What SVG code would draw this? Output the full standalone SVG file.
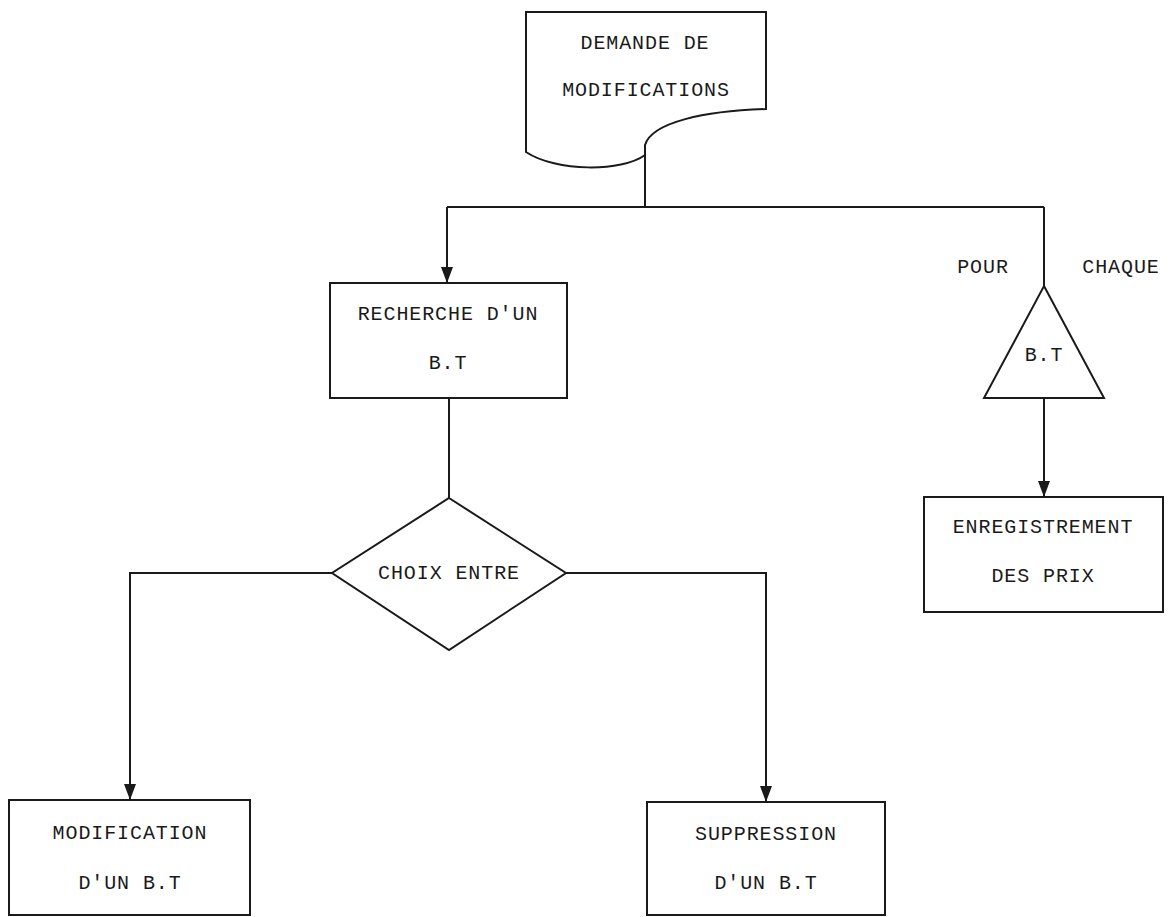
<svg xmlns="http://www.w3.org/2000/svg" width="1171" height="917" viewBox="0 0 1171 917">
<style>
.shape{fill:none;stroke:#1a1a1a;stroke-width:2}
.conn{fill:none;stroke:#1a1a1a;stroke-width:2}
text{font-family:"Liberation Mono","DejaVu Sans Mono",monospace;font-size:20px;fill:#1a1a1a;text-anchor:middle;dominant-baseline:central;letter-spacing:0.9px}
</style>
<defs>
<marker id="arr" viewBox="0 0 16 12" refX="16" refY="6" markerWidth="16" markerHeight="12" markerUnits="userSpaceOnUse" orient="auto">
<path d="M0,0 L16,6 L0,12 Z" fill="#1a1a1a"/>
</marker>
</defs>
<rect x="0" y="0" width="1171" height="917" fill="#ffffff"/>
<g id="connectors">
<line class="conn" x1="645" y1="155" x2="645" y2="207"/>
<line class="conn" x1="447" y1="207" x2="1044" y2="207"/>
<line class="conn" x1="447" y1="207" x2="447" y2="283" marker-end="url(#arr)"/>
<line class="conn" x1="1044" y1="207" x2="1044" y2="286"/>
<line class="conn" x1="1044" y1="398" x2="1044" y2="497" marker-end="url(#arr)"/>
<line class="conn" x1="449" y1="398" x2="449" y2="498"/>
<polyline class="conn" points="332,573 130,573 130,800" marker-end="url(#arr)"/>
<polyline class="conn" points="566,573 766,573 766,802" marker-end="url(#arr)"/>
</g>
<g id="demande">
<path class="shape" d="M526,12 H766 V109 C705,111 652,122 645,145 V155 C622,172 556,172 526,152 Z"/>
<text x="645" y="43">DEMANDE DE</text>
<text x="646" y="90">MODIFICATIONS</text>
</g>
<g id="recherche">
<rect class="shape" x="330" y="283" width="237" height="115"/>
<text x="448" y="314">RECHERCHE D'UN</text>
<text x="448" y="363">B.T</text>
</g>
<g id="choix">
<polygon class="shape" points="449,498 566,573 449,650 332,573"/>
<text x="449" y="573">CHOIX ENTRE</text>
</g>
<g id="pour-chaque">
<text x="983" y="267">POUR</text>
<text x="1121" y="267">CHAQUE</text>
<polygon class="shape" points="1044,286 1104,398 984,398"/>
<text x="1044" y="355">B.T</text>
</g>
<g id="enregistrement">
<rect class="shape" x="924" y="497" width="239" height="115"/>
<text x="1043" y="527">ENREGISTREMENT</text>
<text x="1043" y="576">DES PRIX</text>
</g>
<g id="modification">
<rect class="shape" x="9" y="800" width="241" height="115"/>
<text x="130" y="833">MODIFICATION</text>
<text x="130" y="883">D'UN B.T</text>
</g>
<g id="suppression">
<rect class="shape" x="647" y="802" width="238" height="113"/>
<text x="766" y="834">SUPPRESSION</text>
<text x="766" y="883">D'UN B.T</text>
</g>
</svg>
